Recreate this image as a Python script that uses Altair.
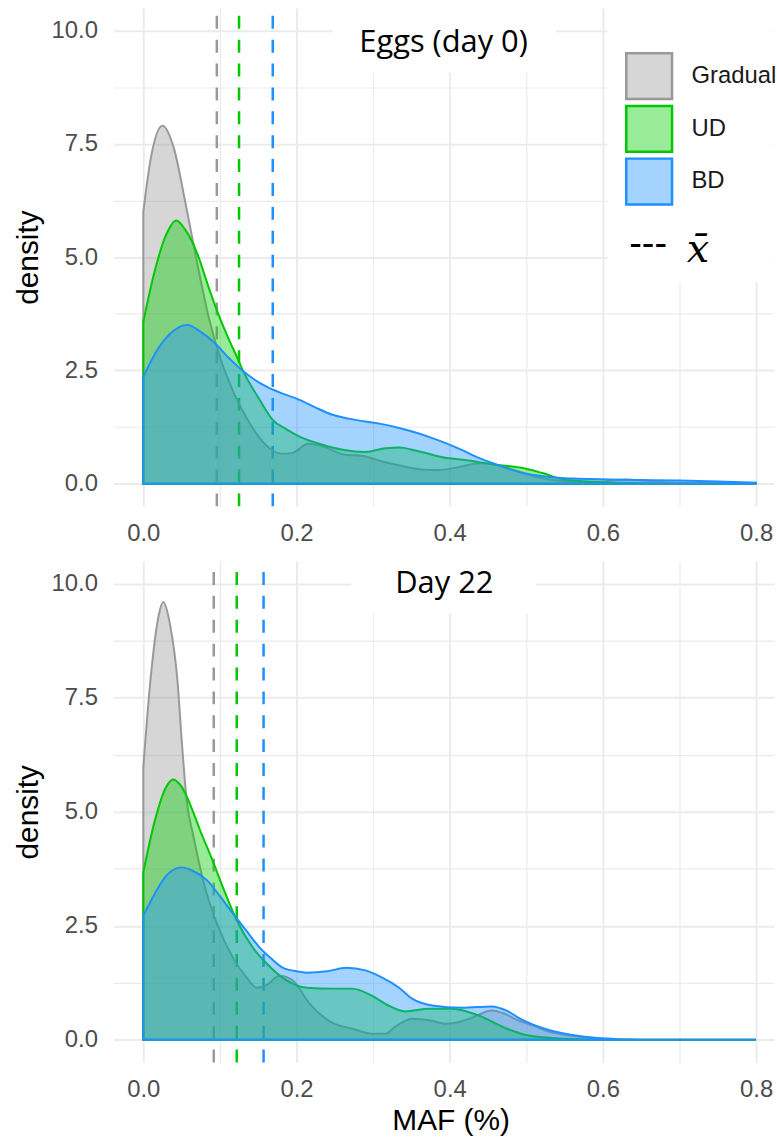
import altair as alt
import pandas as pd

GROUPS = ["Gradual", "UD", "BD"]
FILL_COLORS = ["#999999", "#00cd00", "#1e90ff"]
LINE_COLORS = ["#999999", "#00c800", "#1e90ff"]
LEGEND_FILLS = ["#d6d6d6", "#99eb99", "#a5d3ff"]

X_TICKS = [0.0, 0.1, 0.2, 0.3, 0.4, 0.5, 0.6, 0.7, 0.8]
Y_TICKS = [0.0, 1.25, 2.5, 3.75, 5.0, 6.25, 7.5, 8.75, 10.0]

# ---------- Eggs (day 0) ----------
EGG_GRADUAL_X = [0.0, 0.01, 0.025, 0.04, 0.055, 0.07, 0.085, 0.1, 0.117, 0.135, 0.15, 0.165, 0.18, 0.195,
                 0.215, 0.235, 0.26, 0.29, 0.31, 0.335, 0.36, 0.385, 0.41, 0.44, 0.465, 0.49, 0.515, 0.54,
                 0.57, 0.6, 0.63, 0.66, 0.7, 0.75, 0.8]
EGG_GRADUAL_Y = [6.0, 7.2, 7.9, 7.4, 6.2, 4.9, 3.7, 2.8, 2.05, 1.45, 1.05, 0.78, 0.66, 0.68,
                 0.88, 0.82, 0.65, 0.6, 0.5, 0.4, 0.32, 0.3, 0.36, 0.45, 0.4, 0.27, 0.14, 0.07,
                 0.04, 0.05, 0.09, 0.06, 0.02, 0.01, 0.0]
EGG_UD_X = [0.0, 0.015, 0.03, 0.043, 0.055, 0.07, 0.085, 0.096, 0.11, 0.124, 0.13, 0.152, 0.169, 0.187,
            0.204, 0.234, 0.26, 0.29, 0.316, 0.335, 0.351, 0.37, 0.386, 0.425, 0.46, 0.494, 0.52, 0.55,
            0.6, 0.65, 0.7, 0.8]
EGG_UD_Y = [3.57, 4.7, 5.5, 5.81, 5.6, 5.1, 4.35, 3.83, 3.25, 2.73, 2.5, 1.85, 1.41, 1.2,
            1.04, 0.86, 0.75, 0.7, 0.78, 0.8, 0.75, 0.67, 0.6, 0.51, 0.42, 0.35, 0.24, 0.09,
            0.03, 0.01, 0.0, 0.0]
EGG_BD_X = [0.0, 0.02, 0.04, 0.057, 0.075, 0.096, 0.11, 0.126, 0.145, 0.161, 0.18, 0.204, 0.225, 0.247,
            0.27, 0.29, 0.31, 0.334, 0.351, 0.37, 0.394, 0.415, 0.438, 0.46, 0.48, 0.5, 0.524, 0.55,
            0.567, 0.61, 0.65, 0.7, 0.75, 0.8]
EGG_BD_Y = [2.36, 3.0, 3.38, 3.5, 3.35, 3.06, 2.8, 2.55, 2.3, 2.14, 2.0, 1.85, 1.68, 1.52,
            1.43, 1.37, 1.32, 1.23, 1.15, 1.05, 0.9, 0.75, 0.57, 0.43, 0.31, 0.22, 0.16, 0.12,
            0.11, 0.09, 0.08, 0.07, 0.05, 0.02]
EGG_MEANS = [0.096, 0.125, 0.169]

# ---------- Day 22 ----------
D22_GRADUAL_X = [0.0, 0.01, 0.02, 0.026, 0.035, 0.045, 0.05, 0.057, 0.065, 0.078, 0.096, 0.117, 0.135,
                 0.148, 0.161, 0.178, 0.195, 0.217, 0.235, 0.247, 0.273, 0.3, 0.316, 0.33, 0.351, 0.375,
                 0.394, 0.415, 0.429, 0.455, 0.47, 0.49, 0.51, 0.524, 0.545, 0.567, 0.6, 0.65, 0.8]
D22_GRADUAL_Y = [5.98, 8.0, 9.3, 9.6, 9.1, 7.8, 6.6, 5.2, 4.5, 3.5, 2.55, 1.8, 1.36,
                 1.14, 1.2, 1.4, 1.3, 0.79, 0.5, 0.37, 0.24, 0.13, 0.13, 0.3, 0.46, 0.42,
                 0.35, 0.4, 0.48, 0.64, 0.58, 0.42, 0.3, 0.2, 0.12, 0.07, 0.02, 0.0, 0.0]
D22_UD_X = [0.0, 0.015, 0.03, 0.039, 0.05, 0.065, 0.074, 0.09, 0.105, 0.122, 0.143, 0.161, 0.187, 0.213,
            0.247, 0.273, 0.3, 0.32, 0.342, 0.373, 0.403, 0.438, 0.472, 0.503, 0.55, 0.6, 0.8]
D22_UD_Y = [3.67, 4.8, 5.55, 5.71, 5.55, 5.0, 4.6, 3.95, 3.3, 2.62, 2.02, 1.67, 1.3, 1.14,
            1.12, 1.12, 0.95, 0.75, 0.62, 0.68, 0.68, 0.53, 0.26, 0.09, 0.02, 0.0, 0.0]
D22_BD_X = [0.0, 0.015, 0.03, 0.05, 0.065, 0.083, 0.1, 0.117, 0.135, 0.152, 0.167, 0.182, 0.2, 0.213,
            0.24, 0.265, 0.29, 0.31, 0.334, 0.351, 0.377, 0.416, 0.455, 0.475, 0.49, 0.524, 0.558,
            0.59, 0.62, 0.65, 0.8]
D22_BD_Y = [2.72, 3.2, 3.6, 3.78, 3.7, 3.5, 3.15, 2.77, 2.38, 2.02, 1.78, 1.58, 1.5, 1.47,
            1.5, 1.58, 1.52, 1.38, 1.14, 0.9, 0.75, 0.7, 0.73, 0.63, 0.48, 0.24, 0.11,
            0.04, 0.01, 0.0, 0.0]
D22_MEANS = [0.092, 0.122, 0.157]

# panel titles and white boxes behind them (data units)
TITLES = ["Eggs (day 0)", "Day 22"]
TITLE_X = [0.392, 0.393]
TITLE_Y = [9.52, 9.8]
TITLE_BOX_X = [[0.247, 0.539], [0.271, 0.513]]
TITLE_BOX_Y = [[9.07, 10.5], [9.36, 10.5]]
LEGEND_BOX_X = [0.606, 0.8234]
LEGEND_BOX_Y = [4.45, 10.5]
MEAN_NOTE = ["---", "x\u0304"]
MEAN_NOTE_X = [0.659, 0.724]
MEAN_NOTE_Y = [5.05, 4.89]

X_DOMAIN = [-0.039, 0.8234]
Y_DOMAIN = [-0.5, 10.5]

FONT = "Liberation Sans"


def curves(xs_list, ys_list):
    rows = []
    for g, xs, ys in zip(GROUPS, xs_list, ys_list):
        for x, y in zip(xs, ys):
            rows.append({"group": g, "maf": x, "density": y})
    return pd.DataFrame(rows)


xscale = alt.Scale(domain=X_DOMAIN, nice=False, zero=False)
yscale = alt.Scale(domain=Y_DOMAIN, nice=False, zero=False)

legend = alt.Legend(
    title=None, orient="none", legendX=514, legendY=44, symbolType="square",
    symbolSize=2116, symbolStrokeWidth=2.5, labelFontSize=24, labelFont=FONT,
    labelColor="#1a1a1a", labelOffset=18, rowPadding=-8, padding=0,
)


def x_axis(show_title):
    return alt.Axis(
        values=X_TICKS, title="MAF (%)" if show_title else None,
        labelExpr="round(datum.value*10) % 2 == 0 ? format(datum.value, '.1f') : ''",
        gridWidth={"condition": {"test": "round(datum.value*10) % 2 == 0", "value": 2}, "value": 1.2},
        labelPadding=15, titlePadding=4, titleX=339,
    )


y_axis = alt.Axis(
    values=Y_TICKS, title="density",
    labelExpr="round(datum.value*0.8) % 2 == 0 ? format(datum.value, '.1f') : ''",
    gridWidth={"condition": {"test": "round(datum.value*0.8) % 2 == 0", "value": 2}, "value": 1.2},
    labelPadding=16, titlePadding=8,
)


def panel(df, means, idx, is_top, show_xtitle, height):
    x_enc = alt.X("maf:Q", scale=xscale, axis=x_axis(show_xtitle))
    y_enc = alt.Y("density:Q", scale=yscale, axis=y_axis)

    boxes_x = [TITLE_BOX_X[idx]]
    boxes_y = [TITLE_BOX_Y[idx]]
    if is_top:
        boxes_x.append(LEGEND_BOX_X)
        boxes_y.append(LEGEND_BOX_Y)
    box_df = pd.DataFrame({
        "x1": [b[0] for b in boxes_x], "x2": [b[1] for b in boxes_x],
        "y1": [b[0] for b in boxes_y], "y2": [b[1] for b in boxes_y],
    })
    boxes = alt.Chart(box_df).mark_rect(fill="white").encode(
        x=alt.X("x1:Q", scale=xscale, axis=x_axis(show_xtitle)), x2="x2:Q",
        y=alt.Y("y1:Q", scale=yscale, axis=y_axis), y2="y2:Q",
    )

    mean_df = pd.DataFrame({"group": GROUPS, "maf": means})
    rules = alt.Chart(mean_df).mark_rule(strokeDash=[13, 11], strokeWidth=2.5).encode(
        x=x_enc,
        y=alt.datum(Y_DOMAIN[0]),
        y2=alt.datum(Y_DOMAIN[1]),
        color=alt.Color("group:N", scale=alt.Scale(domain=GROUPS, range=LINE_COLORS), legend=None),
    )

    layers = [boxes, rules]
    for g, fc, lc in zip(GROUPS, FILL_COLORS, LINE_COLORS):
        area = alt.Chart(df).transform_filter(alt.datum.group == g).mark_area(
            fill=fc, fillOpacity=0.4, stroke=lc, strokeWidth=2, interpolate="monotone"
        ).encode(x=x_enc, y=y_enc)
        layers.append(area)

    title_df = pd.DataFrame({"t": [TITLES[idx]], "x": [TITLE_X[idx]], "y": [TITLE_Y[idx]]})
    title = alt.Chart(title_df).mark_text(
        font="Open Sans", fontSize=31, color="black", align="center", baseline="alphabetic"
    ).encode(x=alt.X("x:Q", scale=xscale), y=alt.Y("y:Q", scale=yscale), text="t:N")
    layers.append(title)

    if is_top:
        # legend carrier: no marks drawn, only the legend from the explicit scale domain
        leg_layer = alt.Chart(df).transform_filter("false").mark_square(
            filled=True, strokeWidth=2.5, opacity=1
        ).encode(
            x=x_enc, y=y_enc,
            fill=alt.Fill("group:N", scale=alt.Scale(domain=GROUPS, range=LEGEND_FILLS), legend=legend),
            stroke=alt.Stroke("group:N", scale=alt.Scale(domain=GROUPS, range=LINE_COLORS), legend=legend),
        )
        layers.append(leg_layer)

        note_df = pd.DataFrame({"t": MEAN_NOTE, "x": MEAN_NOTE_X, "y": MEAN_NOTE_Y})
        dash = alt.Chart(note_df).transform_filter(alt.datum.t == MEAN_NOTE[0]).mark_text(
            font=FONT, fontSize=38, color="black", align="center", baseline="alphabetic"
        ).encode(x=alt.X("x:Q", scale=xscale), y=alt.Y("y:Q", scale=yscale), text="t:N")
        xbar = alt.Chart(note_df).transform_filter(alt.datum.t == MEAN_NOTE[1]).mark_text(
            font="DejaVu Serif", fontStyle="italic", fontSize=40, color="black",
            align="center", baseline="alphabetic"
        ).encode(x=alt.X("x:Q", scale=xscale), y=alt.Y("y:Q", scale=yscale), text="t:N")
        layers += [dash, xbar]

    return alt.layer(*layers).properties(width=664, height=height)


egg_df = curves([EGG_GRADUAL_X, EGG_UD_X, EGG_BD_X], [EGG_GRADUAL_Y, EGG_UD_Y, EGG_BD_Y])
d22_df = curves([D22_GRADUAL_X, D22_UD_X, D22_BD_X], [D22_GRADUAL_Y, D22_UD_Y, D22_BD_Y])

top = panel(egg_df, EGG_MEANS, 0, True, False, 501)
bottom = panel(d22_df, D22_MEANS, 1, False, True, 504)

chart = alt.vconcat(top, bottom, spacing=55, bounds="flush").resolve_legend(
    fill="independent", stroke="independent"
).properties(
    padding={"left": 13, "top": 3, "right": 0, "bottom": 5}, background="white"
).configure_view(strokeWidth=0).configure_axis(
    domain=False, ticks=False, gridColor="#ebebeb",
    labelFont=FONT, labelFontSize=24, labelColor="#4d4d4d",
    titleFont=FONT, titleFontSize=30, titleColor="black", titleFontWeight="normal",
)

chart.save("out.html", embed_options={"renderer": "svg", "actions": False})
